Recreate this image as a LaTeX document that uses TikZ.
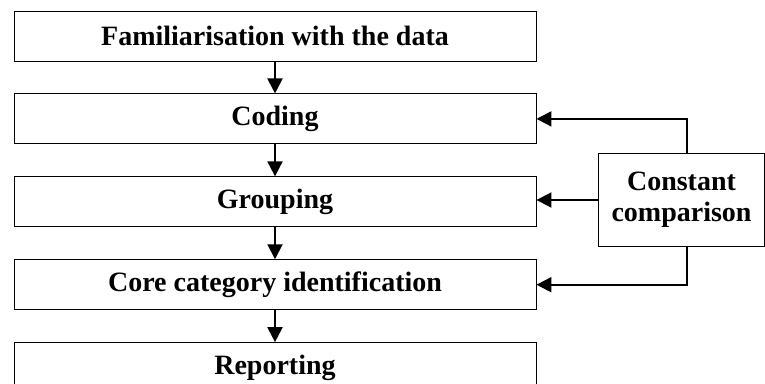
\documentclass[tikz,border=0pt]{standalone}
\usepackage{fontspec}
\setmainfont{Liberation Serif}
\usetikzlibrary{arrows.meta, positioning}

\begin{document}
\begin{tikzpicture}[x=1pt, y=1pt,
		stage/.style={draw, line width=0.9pt, minimum width=522pt, minimum height=50pt, inner sep=0pt, font=\fontsize{28}{31}\selectfont\bfseries},
		flow/.style={line width=2pt, -{Triangle[width=15pt, length=15pt]}}]
\clip (0, 0) rectangle (765, -383);
\useasboundingbox (0, 0) rectangle (765, -383);

\node[stage] (fam) at (275, -36) {Familiarisation with the data};
\node[stage, below=32pt of fam] (cod) {Coding};
\node[stage, below=32pt of cod] (grp) {Grouping};
\node[stage, below=32pt of grp] (core) {Core category identification};
\node[stage, below=32pt of core] (rep) {Reporting};

\node[draw, line width=0.9pt, minimum width=166pt, minimum height=93pt, inner sep=0pt, align=center,
	font=\fontsize{28}{31}\selectfont\bfseries] (cmp) at (681.5, -200) {Constant\\comparison};

\draw[flow] (fam) -- (cod);
\draw[flow] (cod) -- (grp);
\draw[flow] (grp) -- (core);
\draw[flow] (core) -- (rep);

\draw[flow] ([xshift=5.5pt]cmp.north) |- (cod.east);
\draw[flow] (cmp.west) -- (cmp.west -| grp.east);
\draw[flow] ([xshift=5.5pt]cmp.south) |- (core.east);
	\end{tikzpicture}
\end{document}
